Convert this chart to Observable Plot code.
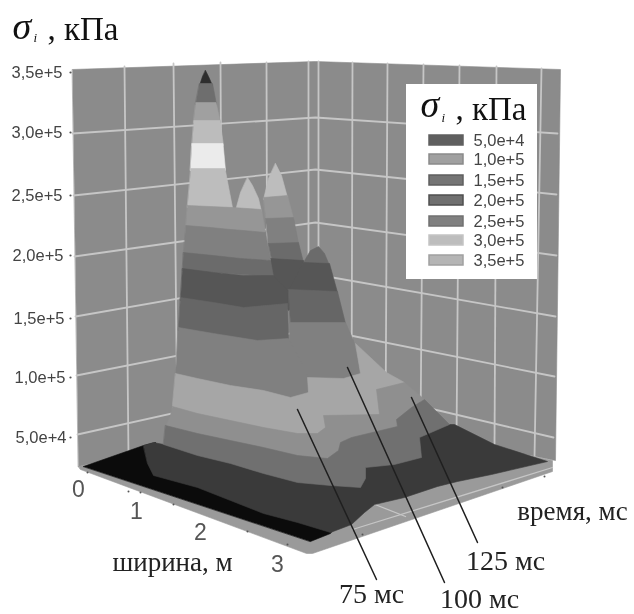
<!DOCTYPE html>
<html><head><meta charset="utf-8">
<script src="https://cdn.jsdelivr.net/npm/d3@7"></script>
<script src="https://cdn.jsdelivr.net/npm/@observablehq/plot@0.6"></script>
<style>html,body{margin:0;padding:0;background:#fff}svg{display:block;filter:blur(.7px)}</style>
</head><body><div id="c"></div><script>
// y-axis (stress, kPa) and tick labels
const stressLabels=["5,0e+4","1,0e+5","1,5e+5","2,0e+5","2,5e+5","3,0e+5","3,5e+5"];
const stressLeftY=[437,377,318,255,195,132,72];
const stressLabelX=[66,65,64,63,62,62,62];
const widthLabels=[["0",78,489],["1",136,511],["2",200,532],["3",277,564]];
// Digitised wall grid, in picture coordinates of the projected 3-D box
const gridH=[[[77,434],[315,381],[553,437]],[[76,375],[315,328],[554,376]],[[75,316],[315,274],[555,316]],[[74,256],[315,222],[556,255]],[[73,195],[315,169],[556,194]],[[72,133],[315,117],[557,133]]];
const gridV=[[[124,66],[128,455]],[[173,63],[177,443]],[[220,62],[222,432]],[[266,62],[267,423]],[[308,61],[308,414]],[[318,61],[318,414]],[[352,62],[351,420]],[[387,63],[385,427]],[[423,64],[420,434]],[[459,65],[456,441]],[[496,66],[494,449]],[[541,68],[534,457]]];
const wallOutline=[[72,69],[315,61],[560,69],[555,460],[316,412],[78,466]];
const slabOutline=[[78,466],[316,412],[552,460],[552,471],[312,553],[306,553],[80,469]];
const floorLines=[[[352,529],[552,467]],[[372,503],[405,516]]];
const tickDots=[[87,472],[128,491],[140,492],[173,504],[247,531],[287,544],[362,534],[502,487],[544,476]];
// Surface: bands of the contour levels (painter's order)
const bands=[
 ["#0b0b0b",[[83,466],[143,445],[155,442],[165,470],[335,526],[330,533],[310,541]]],
 ["#3a3a3a",[[143,445],[153,442],[163,444],[300,470],[449,424],[454,424],[494,444],[547,461],[491,474],[457,481],[437,486],[404,497],[374,504],[364,512],[351,524],[330,532],[297,522],[263,513],[230,500],[197,487],[153,475],[147,463]]],
 // rear peak
 ["#bdbdbd",[[275,163],[281,175],[287,197],[263,199],[268,178]]],
 ["#969696",[[263,197],[287,195],[293,218],[266,222]]],
 ["#808080",[[265,218],[293,217],[298,243],[268,245]]],
 ["#6b6b6b",[[268,243],[298,242],[303,262],[272,262]]],
 ["#565656",[[270,258],[303,260],[320,290],[288,310],[272,290]]],
 // fourth peak
 ["#6b6b6b",[[303,262],[310,250],[318,246],[324,253],[329,265],[303,265]]],
 ["#565656",[[303,262],[329,263],[337,292],[288,291]]],
 ["#666666",[[288,289],[337,291],[345,323],[290,323]]],
 ["#808080",[[289,322],[345,322],[353,340],[360,372],[355,380],[307,380],[289,345]]],
 // main peak
 ["#bdbdbd",[[247,177],[252,185],[258,198],[261,211],[235,210],[240,192]]],
 ["#2e2e2e",[[205,70],[208,76],[212,85],[199,85],[202,76]]],
 ["#6e6e6e",[[199,83],[212,83],[216,104],[195,104]]],
 ["#a0a0a0",[[195.5,102],[215.5,102],[220,122],[193,122]]],
 ["#bcbcbc",[[193.5,120],[219.5,120],[223,145],[191.5,145]]],
 ["#ebebeb",[[191.5,143],[222.5,143],[225,170],[190,170]]],
 ["#bdbdbd",[[190.5,168],[224.5,168],[232,207],[187,207]]],
 ["#969696",[[187,205],[232,207],[261,209],[265,232],[185,232]]],
 ["#808080",[[185.5,225],[210,227],[230,229],[243,230],[265,232],[270,260],[183,254]]],
 ["#6b6b6b",[[183,252],[213,255],[240,258],[270,260],[273,276],[182,270]]],
 ["#565656",[[182,268],[213,272],[243,275],[273,275],[287,290],[287,305],[243,310],[213,304],[180,300]]],
 ["#666666",[[180,297],[213,302],[243,307],[287,303],[288,340],[257,342],[213,335],[178,330]]],
 ["#808080",[[178,327],[213,333],[257,340],[288,338],[300,360],[308,377],[308,392],[290,399],[263,392],[230,387],[197,380],[175,375]]],
 // lower contours
 ["#a6a6a6",[[175,373],[197,378],[230,385],[263,390],[290,397],[308,392],[307,377],[343,378],[360,373],[355,343],[386,372],[404,382],[378,392],[381,414],[343,416],[325,417],[327,428],[317,435],[297,435],[263,429],[230,422],[197,415],[172,410],[172,404]]],
 ["#8f8f8f",[[172,406],[197,413],[230,420],[263,427],[297,433],[317,433],[325,427],[323,415],[379,414],[376,389],[404,382],[424,399],[411,407],[396,419],[397,426],[351,437],[340,442],[338,450],[327,460],[297,457],[263,449],[230,442],[197,435],[165,427],[170,415]]],
 ["#707070",[[165,425],[197,433],[230,440],[263,447],[297,455],[327,458],[338,450],[340,442],[351,437],[397,426],[396,419],[411,407],[424,399],[449,424],[419,437],[421,457],[394,464],[365,467],[365,478],[360,487],[330,485],[297,482],[263,473],[230,463],[197,455],[163,444]]]
];
// Leader lines for the time sections
const leaders=[[[297,409],[376,579]],[[347,367],[444,582]],[[411,397],[477,542]]];
const timeLabels=[["75 мс",371,594],["100 мс",479,599],["125 мс",505,561]];
// Legend
const legendLabels=["5,0e+4","1,0e+5","1,5e+5","2,0e+5","2,5e+5","3,0e+5","3,5e+5"];
const legendFills=["#5f5f5f","#a0a0a0","#757575","#707070","#808080","#bdbdbd","#b5b5b5"];
const legendStroke=["#5f5f5f","#8a8a8a","#5f5f5f","#4f4f4f","#707070","#c4c4c4","#a0a0a0"];
const legendY=[140,159,180,200,221,240,260];

const poly=(pts,c,sw=.6)=>Plot.line(pts,{x:d=>d[0],y:d=>d[1],fill:c,stroke:c,strokeWidth:sw,curve:"linear-closed"});
const seg=(pts,c,sw)=>Plot.line(pts,{x:d=>d[0],y:d=>d[1],stroke:c,strokeWidth:sw});
const sans="Liberation Sans",serif="Liberation Serif";
const txt=(rows,o)=>Plot.text(rows,{x:d=>d[1],y:d=>d[2],text:d=>d[0],...o});
const rows=stressLabels.map((t,i)=>[t,stressLabelX[i],stressLeftY[i]]);
const lrows=legendLabels.map((t,i)=>[t,473,legendY[i]]);
const marks=[
 poly(wallOutline,"#8b8b8b"),
 ...gridH.map(g=>seg(g,"#c6c6c6",1.8)),
 ...gridV.map(g=>seg(g,"#c6c6c6",1.8)),
 poly(slabOutline,"#9a9a9a"),
 ...floorLines.map(g=>seg(g,"#c6c6c6",1.3)),
 Plot.dot(tickDots,{x:d=>d[0],y:d=>d[1],r:1,fill:"#555"}),
 ...bands.map(b=>poly(b[1],b[0])),
 ...leaders.map(l=>seg(l,"#1f1f1f",1.5)),
 Plot.dot(stressLeftY,{x:()=>70,y:d=>d,r:1.1,fill:"#555"}),
 txt(rows,{textAnchor:"end",fontFamily:sans,fontSize:16.5,fill:"#444"}),
 txt(widthLabels,{textAnchor:"middle",fontFamily:sans,fontSize:23,fill:"#555"}),
 txt([["ширина, м",172,562]],{textAnchor:"middle",fontFamily:serif,fontSize:27,fill:"#222"}),
 txt([["время, мс",572,511]],{textAnchor:"middle",fontFamily:serif,fontSize:27,fill:"#222"}),
 txt(timeLabels,{textAnchor:"middle",fontFamily:serif,fontSize:28,fill:"#222"}),
 txt([["σ",12,26]],{textAnchor:"start",fontFamily:serif,fontStyle:"italic",fontSize:38,fill:"#111"}),
 txt([["i",33,37]],{textAnchor:"start",fontFamily:serif,fontStyle:"italic",fontSize:13,fill:"#111"}),
 txt([[", кПа",47,29]],{textAnchor:"start",fontFamily:serif,fontSize:33,fill:"#111"}),
 Plot.rect([[406,537,84,279]],{x1:d=>d[0],x2:d=>d[1],y1:d=>d[2],y2:d=>d[3],fill:"#fff"}),
 txt([["σ",420,104]],{textAnchor:"start",fontFamily:serif,fontStyle:"italic",fontSize:38,fill:"#111"}),
 txt([["i",441,117]],{textAnchor:"start",fontFamily:serif,fontStyle:"italic",fontSize:13,fill:"#111"}),
 txt([[", кПа",455,109]],{textAnchor:"start",fontFamily:serif,fontSize:33,fill:"#111"}),
 Plot.rect(legendY.map((y,i)=>({y,f:legendFills[i],s:legendStroke[i]})),{x1:()=>429,x2:()=>463,y1:d=>d.y-5,y2:d=>d.y+5,fill:d=>d.f,stroke:d=>d.s,strokeWidth:1.5}),
 txt(lrows,{textAnchor:"start",fontFamily:sans,fontSize:16.5,fill:"#444"})
];
const chart=Plot.plot({width:634,height:614,margin:0,
 x:{domain:[0,634],range:[0,634],axis:null},
 y:{domain:[0,614],range:[0,614],axis:null},
 color:{type:"identity"},
 style:{background:"#fff"},marks});
document.getElementById("c").append(chart);
</script></body></html>
